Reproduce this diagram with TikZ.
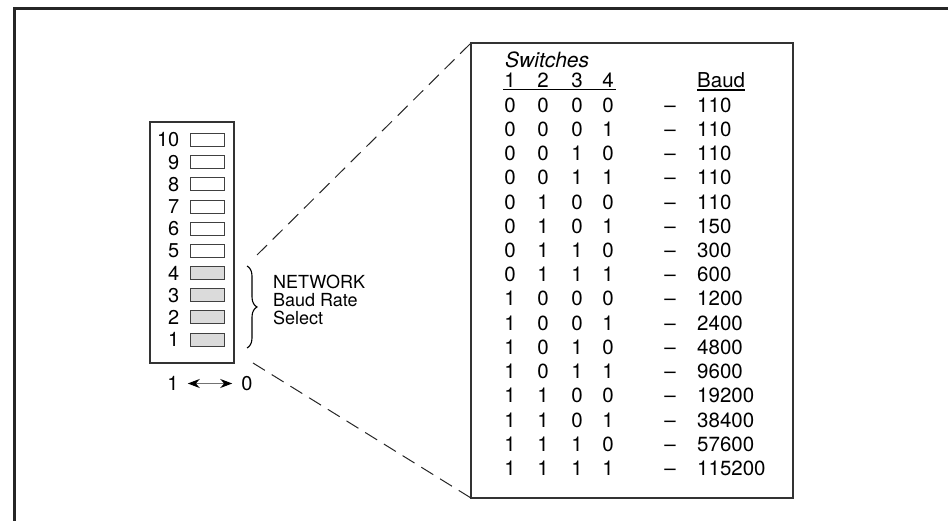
\documentclass[tikz,border=0pt]{standalone}
\usepackage{fontspec}
\setmainfont{TeX Gyre Heros}
\usetikzlibrary{positioning,arrows.meta,decorations.pathreplacing}

\begin{document}
\begin{tikzpicture}[
    x=1pt, y=-1pt,
    frame/.style={draw=black!85, line width=3pt, line cap=rect},
    swbox/.style={draw=black!80, line width=1.2pt},
    sw/.style={rectangle, draw=black!75, line width=0.9pt, minimum width=34pt, minimum height=13pt, inner sep=0pt},
    swon/.style={sw, fill=black!14},
    swlabel/.style={anchor=east, inner sep=0pt, font=\fontsize{20}{20}\selectfont},
    note/.style={anchor=west, inner sep=0pt, font=\fontsize{18}{18}\selectfont},
    digit/.style={anchor=base, inner sep=0pt, font=\fontsize{20.5}{20.5}\selectfont},
    baud/.style={digit, anchor=base west},
    zoomline/.style={draw=black!85, line width=1pt, dash pattern=on 14pt off 8pt},
    dir/.style={draw=black!55, line width=1pt, shorten <=9pt, shorten >=9pt,
        {Stealth[length=12pt,width=9pt,black]}-{Stealth[length=12pt,width=9pt,black]}}
]
\useasboundingbox (0,0) rectangle (948,521);

% outer frame, open at right and bottom
\draw[frame] (14,521) -- (14,9) -- (948,9);

% DIP switch block
\coordinate (bnw) at (150,122);
\coordinate (bse) at (234,363);
\draw[swbox] (bnw) rectangle (bse);

\foreach \k in {1,...,10}{
    \pgfmathsetmacro\yy{140+(10-\k)*22.17}
    \ifnum\k<5
        \node[swon] (sw\k) at (207,\yy) {};
    \else
        \node[sw] (sw\k) at (207,\yy) {};
    \fi
    \node[swlabel] (n\k) at (179.5,\yy) {\k};
}

% network baud rate select
\coordinate (brt) at (247,266);
\coordinate (brb) at (247,348);
\draw[decorate, decoration={brace, amplitude=10pt}, line width=1.1pt] (brt) -- (brb);
\node[note] (net) at (273,282) {NETWORK};
\node[note, below=4pt of net.south west, anchor=north west] (rate) {Baud Rate};
\node[note, below=4pt of rate.south west, anchor=north west] (sel) {Select};

% direction arrow
\node[swlabel, anchor=center] (one) at (173,383.5) {1};
\node[swlabel, anchor=center] (zero) at (247,383.5) {0};
\draw[dir] (one) -- (zero);

% table box and zoom lines
\coordinate (tnw) at (471,43);
\coordinate (tse) at (793,498);
\draw[swbox, line width=1.1pt] (tnw) rectangle (tse);
\coordinate (zu) at (257,255);
\coordinate (zl) at (253,363);
\draw[zoomline] (zu) -- (tnw);
\draw[zoomline] (zl) -- (tnw |- tse);

% header
\node[baud, font=\fontsize{21}{21}\selectfont\itshape] (sws) at (505,67.5) {Switches};
\node[digit] (h1) at (510,87.5) {1};
\node[digit] (h2) at (543,87.5) {2};
\node[digit] (h3) at (577,87.5) {3};
\node[digit] (h4) at (608,87.5) {4};
\node[baud] (hb) at (697,87.5) {Baud};
\draw[line width=1.3pt] ([xshift=-7pt,yshift=-2pt]h1.south) -- ([xshift=2pt,yshift=-2pt]h4.south east);
\draw[line width=1.3pt] ([yshift=-2pt]hb.south west) -- ([yshift=-2pt]hb.south east);

% rows
\foreach \a/\b/\c/\d/\rate [count=\i] in {
    0/0/0/0/110, 0/0/0/1/110, 0/0/1/0/110, 0/0/1/1/110,
    0/1/0/0/110, 0/1/0/1/150, 0/1/1/0/300, 0/1/1/1/600,
    1/0/0/0/1200, 1/0/0/1/2400, 1/0/1/0/4800, 1/0/1/1/9600,
    1/1/0/0/19200, 1/1/0/1/38400, 1/1/1/0/57600, 1/1/1/1/115200}{
    \pgfmathsetmacro\yy{112.4+(\i-1)*24.2}
    \node[digit] (a\i) at (510,\yy) {\a};
    \node[digit] (b\i) at (543,\yy) {\b};
    \node[digit] (c\i) at (577,\yy) {\c};
    \node[digit] (d\i) at (608,\yy) {\d};
    \node[digit] (m\i) at (670,\yy) {--};
    \node[baud] (r\i) at (697,\yy) {\rate};
}
\end{tikzpicture}
\end{document}
